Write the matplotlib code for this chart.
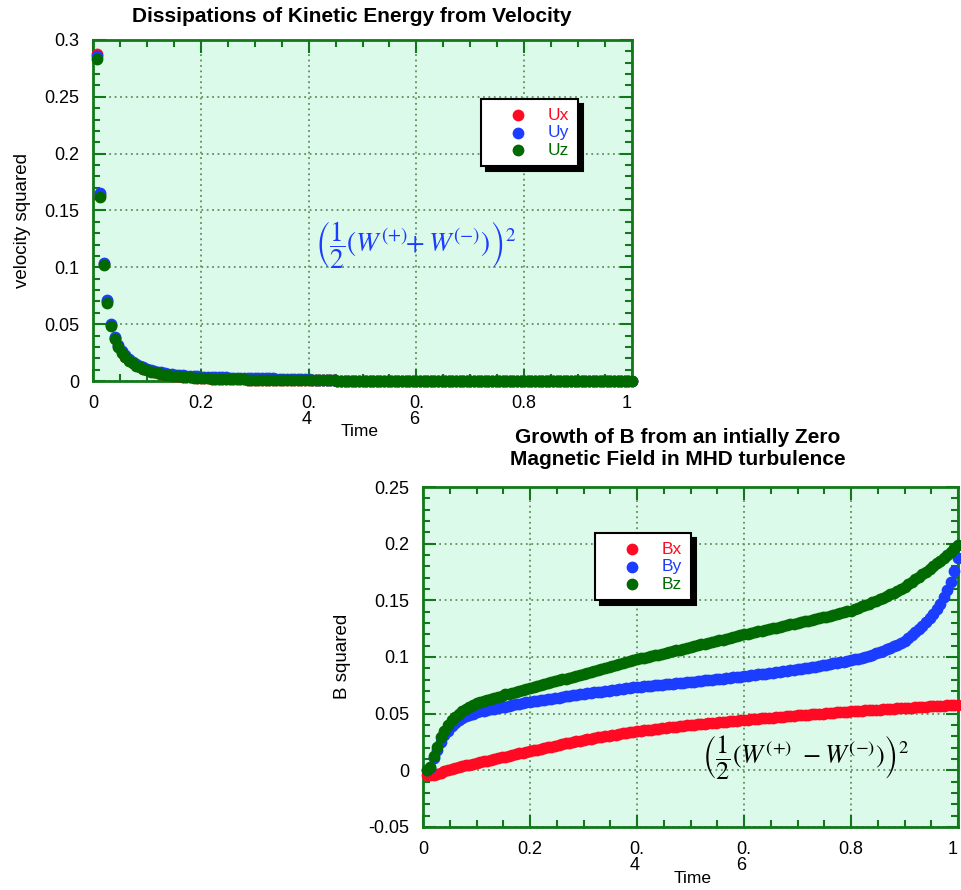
import numpy as np
import matplotlib
matplotlib.use('Agg')
import matplotlib.pyplot as plt
from matplotlib.ticker import MultipleLocator, FixedLocator, FixedFormatter

plt.rcParams['font.family'] = ['Liberation Sans', 'DejaVu Sans']
plt.rcParams['mathtext.fontset'] = 'stix'

# ---------------- data ----------------
time = [
    0.0067, 0.0133, 0.02, 0.0267, 0.0333, 0.04, 0.0467, 0.0533, 0.06, 0.0667,
    0.0733, 0.08, 0.0867, 0.0933, 0.1, 0.1067, 0.1133, 0.12, 0.1267, 0.1333,
    0.14, 0.1467, 0.1533, 0.16, 0.1667, 0.1733, 0.18, 0.1867, 0.1933, 0.2,
    0.2067, 0.2133, 0.22, 0.2267, 0.2333, 0.24, 0.2467, 0.2533, 0.26, 0.2667,
    0.2733, 0.28, 0.2867, 0.2933, 0.3, 0.3067, 0.3133, 0.32, 0.3267, 0.3333,
    0.34, 0.3467, 0.3533, 0.36, 0.3667, 0.3733, 0.38, 0.3867, 0.3933, 0.4,
    0.4067, 0.4133, 0.42, 0.4267, 0.4333, 0.44, 0.4467, 0.4533, 0.46, 0.4667,
    0.4733, 0.48, 0.4867, 0.4933, 0.5, 0.5067, 0.5133, 0.52, 0.5267, 0.5333,
    0.54, 0.5467, 0.5533, 0.56, 0.5667, 0.5733, 0.58, 0.5867, 0.5933, 0.6,
    0.6067, 0.6133, 0.62, 0.6267, 0.6333, 0.64, 0.6467, 0.6533, 0.66, 0.6667,
    0.6733, 0.68, 0.6867, 0.6933, 0.7, 0.7067, 0.7133, 0.72, 0.7267, 0.7333,
    0.74, 0.7467, 0.7533, 0.76, 0.7667, 0.7733, 0.78, 0.7867, 0.7933, 0.8,
    0.8067, 0.8133, 0.82, 0.8267, 0.8333, 0.84, 0.8467, 0.8533, 0.86, 0.8667,
    0.8733, 0.88, 0.8867, 0.8933, 0.9, 0.9067, 0.9133, 0.92, 0.9267, 0.9333,
    0.94, 0.9467, 0.9533, 0.96, 0.9667, 0.9733, 0.98, 0.9867, 0.9933, 1.0,
]

ux = [
    0.288, 0.164, 0.103, 0.070, 0.049, 0.0375, 0.0305, 0.0255, 0.0215, 0.0185,
    0.0158, 0.0137, 0.0121, 0.0106, 0.0094, 0.0084, 0.0076, 0.0069, 0.0063, 0.0057,
    0.0052, 0.0048, 0.0044, 0.0041, 0.0038, 0.0035, 0.0033, 0.0031, 0.0029, 0.0027,
    0.0025, 0.0023, 0.0022, 0.0021, 0.0020, 0.0019, 0.0018, 0.0017, 0.0016, 0.0015,
    0.0015, 0.0014, 0.0013, 0.0013, 0.0012, 0.0012, 0.0011, 0.0011, 0.0010, 0.0010,
    0.0009, 0.0009, 0.0009, 0.0008, 0.0008, 0.0008, 0.0007, 0.0007, 0.0007, 0.0006,
    0.0006, 0.0006, 0.0006, 0.0005, 0.0005, 0.0005, 0.0005, 0.0004, 0.0004, 0.0004,
    0.0004, 0.0004, 0.0003, 0.0003, 0.0003, 0.0003, 0.0003, 0.0003, 0.0002, 0.0002,
    0.0002, 0.0002, 0.0002, 0.0002, 0.0002, 0.0002, 0.0002, 0.0002, 0.0002, 0.0002,
    0.0002, 0.0002, 0.0001, 0.0001, 0.0001, 0.0001, 0.0001, 0.0001, 0.0001, 0.0001,
    0.0001, 0.0001, 0.0001, 0.0001, 0.0001, 0.0001, 0.0001, 0.0001, 0.0001, 0.0001,
    0.0001, 0.0001, 0.0001, 0.0001, 0.0001, 0.0001, 0.0001, 0.0001, 0.0001, 0.0001,
    0.0, 0.0, 0.0, 0.0, 0.0, 0.0, 0.0, 0.0, 0.0, 0.0,
    0.0, 0.0, 0.0, 0.0, 0.0, 0.0, 0.0, 0.0, 0.0, 0.0,
    0.0, 0.0, 0.0, 0.0, 0.0, 0.0, 0.0, 0.0, 0.0, 0.0,
]

uy = [
    0.286, 0.165, 0.104, 0.071, 0.050, 0.0385, 0.0315, 0.0265, 0.0225, 0.0195,
    0.017, 0.015, 0.0134, 0.0119, 0.0107, 0.0097, 0.0089, 0.0081, 0.0075, 0.0069,
    0.0064, 0.0060, 0.0056, 0.0053, 0.0050, 0.0047, 0.0045, 0.0043, 0.0041, 0.0039,
    0.0038, 0.0036, 0.0035, 0.0034, 0.0033, 0.0032, 0.0031, 0.0030, 0.0029, 0.0028,
    0.0028, 0.0027, 0.0026, 0.0026, 0.0025, 0.0025, 0.0024, 0.0024, 0.0023, 0.0023,
    0.0022, 0.0022, 0.0021, 0.0020, 0.0020, 0.0019, 0.0018, 0.0017, 0.0016, 0.0014,
    0.0012, 0.0010, 0.0008, 0.0006, 0.0005, 0.0005, 0.0005, 0.0004, 0.0004, 0.0004,
    0.0004, 0.0004, 0.0003, 0.0003, 0.0003, 0.0003, 0.0003, 0.0003, 0.0002, 0.0002,
    0.0002, 0.0002, 0.0002, 0.0002, 0.0002, 0.0002, 0.0002, 0.0002, 0.0002, 0.0002,
    0.0002, 0.0002, 0.0001, 0.0001, 0.0001, 0.0001, 0.0001, 0.0001, 0.0001, 0.0001,
    0.0001, 0.0001, 0.0001, 0.0001, 0.0001, 0.0001, 0.0001, 0.0001, 0.0001, 0.0001,
    0.0001, 0.0001, 0.0001, 0.0001, 0.0001, 0.0001, 0.0001, 0.0001, 0.0001, 0.0001,
    0.0, 0.0, 0.0, 0.0, 0.0, 0.0, 0.0, 0.0, 0.0, 0.0,
    0.0, 0.0, 0.0, 0.0, 0.0, 0.0, 0.0, 0.0, 0.0, 0.0,
    0.0, 0.0, 0.0, 0.0, 0.0, 0.0, 0.0, 0.0, 0.0, 0.0,
]

uz = [
    0.283, 0.162, 0.102, 0.069, 0.048, 0.037, 0.030, 0.025, 0.021, 0.018,
    0.0155, 0.0135, 0.012, 0.0105, 0.0093, 0.0083, 0.0075, 0.0068, 0.0062, 0.0056,
    0.0051, 0.0047, 0.0043, 0.0040, 0.0037, 0.0034, 0.0032, 0.0030, 0.0028, 0.0026,
    0.0025, 0.0023, 0.0022, 0.0021, 0.0020, 0.0019, 0.0018, 0.0017, 0.0016, 0.0015,
    0.0015, 0.0014, 0.0013, 0.0013, 0.0012, 0.0012, 0.0011, 0.0011, 0.0010, 0.0010,
    0.0009, 0.0009, 0.0009, 0.0008, 0.0008, 0.0008, 0.0007, 0.0007, 0.0007, 0.0006,
    0.0006, 0.0006, 0.0006, 0.0005, 0.0005, 0.0005, 0.0005, 0.0004, 0.0004, 0.0004,
    0.0004, 0.0004, 0.0003, 0.0003, 0.0003, 0.0003, 0.0003, 0.0003, 0.0002, 0.0002,
    0.0002, 0.0002, 0.0002, 0.0002, 0.0002, 0.0002, 0.0002, 0.0002, 0.0002, 0.0002,
    0.0002, 0.0002, 0.0001, 0.0001, 0.0001, 0.0001, 0.0001, 0.0001, 0.0001, 0.0001,
    0.0001, 0.0001, 0.0001, 0.0001, 0.0001, 0.0001, 0.0001, 0.0001, 0.0001, 0.0001,
    0.0001, 0.0001, 0.0001, 0.0001, 0.0001, 0.0001, 0.0001, 0.0001, 0.0001, 0.0001,
    0.0, 0.0, 0.0, 0.0, 0.0, 0.0, 0.0, 0.0, 0.0, 0.0,
    0.0, 0.0, 0.0, 0.0, 0.0, 0.0, 0.0, 0.0, 0.0, 0.0,
    0.0, 0.0, 0.0, 0.0, 0.0, 0.0, 0.0, 0.0, 0.0, 0.0,
]

bx = [
    -0.004, -0.004, -0.004, -0.003, -0.002, -0.001, 0.0, 0.001, 0.002, 0.003,
    0.0037, 0.0044, 0.0051, 0.0058, 0.0065, 0.0072, 0.0079, 0.0086, 0.0093, 0.0100,
    0.0107, 0.0114, 0.0121, 0.0128, 0.0135, 0.0142, 0.0149, 0.0156, 0.0163, 0.0170,
    0.0177, 0.0183, 0.0190, 0.0197, 0.0203, 0.0210, 0.0217, 0.0223, 0.0230, 0.0237,
    0.0243, 0.0250, 0.0257, 0.0263, 0.0270, 0.0275, 0.0280, 0.0285, 0.0290, 0.0295,
    0.0300, 0.0305, 0.0310, 0.0315, 0.0320, 0.0325, 0.0330, 0.0335, 0.0340, 0.0345,
    0.0349, 0.0352, 0.0356, 0.0360, 0.0363, 0.0367, 0.0371, 0.0374, 0.0378, 0.0382,
    0.0385, 0.0389, 0.0393, 0.0396, 0.0400, 0.0403, 0.0406, 0.0409, 0.0412, 0.0415,
    0.0418, 0.0421, 0.0424, 0.0427, 0.0430, 0.0433, 0.0436, 0.0439, 0.0442, 0.0445,
    0.0448, 0.0450, 0.0453, 0.0456, 0.0458, 0.0461, 0.0464, 0.0466, 0.0469, 0.0472,
    0.0474, 0.0477, 0.0480, 0.0482, 0.0485, 0.0487, 0.0490, 0.0492, 0.0494, 0.0497,
    0.0499, 0.0501, 0.0504, 0.0506, 0.0508, 0.0511, 0.0513, 0.0515, 0.0518, 0.0520,
    0.0522, 0.0524, 0.0526, 0.0528, 0.0530, 0.0532, 0.0534, 0.0536, 0.0538, 0.0540,
    0.0542, 0.0544, 0.0546, 0.0548, 0.0550, 0.0552, 0.0554, 0.0556, 0.0558, 0.0560,
    0.0562, 0.0564, 0.0566, 0.0568, 0.0570, 0.0572, 0.0574, 0.0576, 0.0578, 0.0580,
]

by = [
    0.000, 0.002, 0.011, 0.018, 0.025, 0.031, 0.035, 0.039, 0.042, 0.044,
    0.046, 0.048, 0.049, 0.050, 0.0515, 0.0521, 0.0527, 0.0533, 0.0539, 0.0545,
    0.0551, 0.0557, 0.0563, 0.0569, 0.0575, 0.0581, 0.0587, 0.0593, 0.0599, 0.0605,
    0.0610, 0.0614, 0.0619, 0.0624, 0.0628, 0.0633, 0.0638, 0.0642, 0.0647, 0.0652,
    0.0656, 0.0661, 0.0666, 0.0670, 0.0675, 0.0679, 0.0683, 0.0687, 0.0691, 0.0695,
    0.0699, 0.0703, 0.0707, 0.0711, 0.0715, 0.0719, 0.0723, 0.0727, 0.0731, 0.0735,
    0.0738, 0.0741, 0.0744, 0.0747, 0.0750, 0.0753, 0.0756, 0.0759, 0.0762, 0.0765,
    0.0768, 0.0771, 0.0774, 0.0777, 0.0780, 0.0783, 0.0787, 0.0790, 0.0793, 0.0797,
    0.0800, 0.0803, 0.0807, 0.0810, 0.0813, 0.0817, 0.0820, 0.0823, 0.0827, 0.0830,
    0.0834, 0.0838, 0.0842, 0.0846, 0.0850, 0.0854, 0.0858, 0.0862, 0.0866, 0.0870,
    0.0874, 0.0878, 0.0882, 0.0886, 0.0890, 0.0895, 0.0900, 0.0906, 0.0911, 0.0916,
    0.0922, 0.0927, 0.0932, 0.0938, 0.0943, 0.0948, 0.0954, 0.0959, 0.0964, 0.0970,
    0.0978, 0.0986, 0.0994, 0.1003, 0.1012, 0.1022, 0.1032, 0.1043, 0.1055, 0.1067,
    0.1080, 0.1094, 0.1109, 0.1125, 0.1142, 0.1165, 0.1190, 0.1217, 0.1245, 0.1275,
    0.1306, 0.1340, 0.1378, 0.1420, 0.1470, 0.1527, 0.1592, 0.1665, 0.1755, 0.1870,
]

bz = [
    0.000, 0.003, 0.013, 0.021, 0.029, 0.035, 0.040, 0.044, 0.047, 0.050,
    0.052, 0.054, 0.056, 0.058, 0.059, 0.060, 0.061, 0.062, 0.063, 0.064,
    0.065, 0.066, 0.067, 0.0675, 0.068, 0.069, 0.070, 0.071, 0.072, 0.073,
    0.0738, 0.0746, 0.0754, 0.0762, 0.0770, 0.0778, 0.0786, 0.0794, 0.0802, 0.0810,
    0.0818, 0.0826, 0.0834, 0.0842, 0.0850, 0.0859, 0.0868, 0.0877, 0.0886, 0.0895,
    0.0904, 0.0913, 0.0922, 0.0931, 0.0940, 0.0948, 0.0956, 0.0964, 0.0972, 0.0980,
    0.0987, 0.0994, 0.1001, 0.1008, 0.1015, 0.1022, 0.1029, 0.1036, 0.1043, 0.1050,
    0.1058, 0.1066, 0.1074, 0.1082, 0.1090, 0.1097, 0.1104, 0.1111, 0.1118, 0.1125,
    0.1132, 0.1139, 0.1146, 0.1153, 0.1160, 0.1168, 0.1176, 0.1184, 0.1192, 0.1200,
    0.1207, 0.1213, 0.1220, 0.1227, 0.1233, 0.1240, 0.1247, 0.1253, 0.1260, 0.1267,
    0.1273, 0.1280, 0.1287, 0.1293, 0.1300, 0.1307, 0.1314, 0.1321, 0.1328, 0.1335,
    0.1342, 0.1349, 0.1356, 0.1363, 0.1370, 0.1378, 0.1386, 0.1394, 0.1402, 0.1410,
    0.1422, 0.1434, 0.1446, 0.1458, 0.1470, 0.1483, 0.1496, 0.1509, 0.1522, 0.1535,
    0.1552, 0.1569, 0.1586, 0.1603, 0.1620, 0.1641, 0.1663, 0.1685, 0.1708, 0.1731,
    0.1754, 0.1778, 0.1802, 0.1826, 0.1851, 0.1876, 0.1902, 0.1928, 0.1958, 0.1990,
]

for arr in (ux, uy, uz, bx, by, bz):
    assert len(arr) == len(time), len(arr)

x_ticks = [0, 0.2, 0.4, 0.6, 0.8, 1.0]
x_ticklabels = ['0', '0.2', '0.\n4', '0.\n6', '0.8', '1']
top_yticks = [0, 0.05, 0.1, 0.15, 0.2, 0.25, 0.3]
top_yticklabels = ['0', '0.05', '0.1', '0.15', '0.2', '0.25', '0.3']
bot_yticks = [-0.05, 0, 0.05, 0.1, 0.15, 0.2, 0.25]
bot_yticklabels = ['-0.05', '0', '0.05', '0.1', '0.15', '0.2', '0.25']

u_labels = ['Ux', 'Uy', 'Uz']
b_labels = ['Bx', 'By', 'Bz']

# ---------------- styles ----------------
RED = '#ff0a22'
BLUE = '#1a3dff'
GREEN = '#006a00'
BG = '#dcfaea'
AXC = '#12781a'
GRIDC = '#5f8f5f'
MS = 72

fig = plt.figure(figsize=(9.61, 8.90), dpi=100)
ax1 = fig.add_axes([0.0968, 0.5719, 0.5609, 0.3832])
ax2 = fig.add_axes([0.4402, 0.0708, 0.5567, 0.3820])


def style(ax, yticks, ylabels, ylim):
    ax.set_facecolor(BG)
    ax.set_xlim(0, 1)
    ax.set_ylim(*ylim)
    ax.xaxis.set_major_locator(FixedLocator(x_ticks))
    ax.xaxis.set_major_formatter(FixedFormatter(x_ticklabels))
    ax.yaxis.set_major_locator(FixedLocator(yticks))
    ax.yaxis.set_major_formatter(FixedFormatter(ylabels))
    ax.xaxis.set_minor_locator(MultipleLocator(0.05))
    ax.yaxis.set_minor_locator(MultipleLocator(0.01))
    ax.tick_params(which='both', direction='in', top=True, right=True,
                   color=AXC, width=1.5, labelsize=13, pad=10,
                   labelcolor='black')
    ax.tick_params(which='major', length=9)
    ax.tick_params(which='minor', length=5)
    ax.grid(True, which='major', linestyle=(0, (1, 2)), color=GRIDC,
            linewidth=1.3)
    ax.set_axisbelow(True)
    for s in ax.spines.values():
        s.set_color(AXC)
        s.set_linewidth(2)
    labs = ax.get_xticklabels()
    for lab in labs:
        lab.set_linespacing(0.95)
        lab.set_multialignment('left')
    labs[-1].set_horizontalalignment('right')


style(ax1, top_yticks, top_yticklabels, (0, 0.3))
style(ax2, bot_yticks, bot_yticklabels, (-0.05, 0.25))

h = []
for ys, c, lab in zip((ux, uy, uz), (RED, BLUE, GREEN), u_labels):
    h.append(ax1.scatter(time, ys, s=MS, color=c, linewidths=0,
                         clip_on=False, zorder=3, label=lab))
h2 = []
for ys, c, lab in zip((bx, by, bz), (RED, BLUE, GREEN), b_labels):
    h2.append(ax2.scatter(time, ys, s=MS, color=c, linewidths=0,
                          clip_on=False, zorder=3, label=lab))

LEG_KW = dict(loc='upper left', fancybox=False, frameon=True, fontsize=12.5,
              handlelength=3.3, handletextpad=0.05, borderpad=0.5,
              labelspacing=0.13, borderaxespad=0, markerscale=1.0)


def make_legend(ax, handles, anchor):
    try:
        leg = ax.legend(handles=handles, bbox_to_anchor=anchor,
                        shadow={'color': 'black', 'alpha': 1.0,
                                'ox': 3.5, 'oy': -3.5}, **LEG_KW)
    except Exception:
        leg = ax.legend(handles=handles, bbox_to_anchor=anchor, shadow=True,
                        **LEG_KW)
    fr = leg.get_frame()
    fr.set_edgecolor('black')
    fr.set_linewidth(1.5)
    fr.set_facecolor('white')
    fr.set_alpha(1)
    for t, c in zip(leg.get_texts(), (RED, BLUE, GREEN)):
        t.set_color(c)
    leg.set_zorder(10)
    return leg


make_legend(ax1, h, (0.7199, 0.827))
make_legend(ax2, h2, (0.3215, 0.8647))

ax1.text(0.599, 0.399,
         r'$\left(\dfrac{1}{2}\left(W^{(+)}\!\!+W^{(-)}\right)\right)^2$',
         transform=ax1.transAxes, ha='center', va='center', fontsize=19.5,
         color='#1a3dff')
ax2.text(0.716, 0.206,
         r'$\left(\dfrac{1}{2}\left(W^{(+)}\ -W^{(-)}\right)\right)^2$',
         transform=ax2.transAxes, ha='center', va='center', fontsize=19,
         color='black')

ax1.set_title('Dissipations of Kinetic Energy from Velocity',
              fontsize=15, fontweight='bold', pad=13, x=0.48)
ax2.set_title('Growth of B from an intially Zero\nMagnetic Field in MHD turbulence',
              fontsize=15, fontweight='bold', pad=15.5, linespacing=1.25,
              x=0.476)

ax1.set_xlabel('Time', fontsize=12.5)
ax1.xaxis.set_label_coords(0.495, -0.126)
ax2.set_xlabel('Time', fontsize=12.5)
ax2.xaxis.set_label_coords(0.503, -0.129)
ax1.set_ylabel('velocity squared', fontsize=13.5)
ax1.yaxis.set_label_coords(-0.115, 0.472)
ax2.set_ylabel('B squared', fontsize=13.5)
ax2.yaxis.set_label_coords(-0.135, 0.503)

fig.savefig('out.png', dpi=100)
